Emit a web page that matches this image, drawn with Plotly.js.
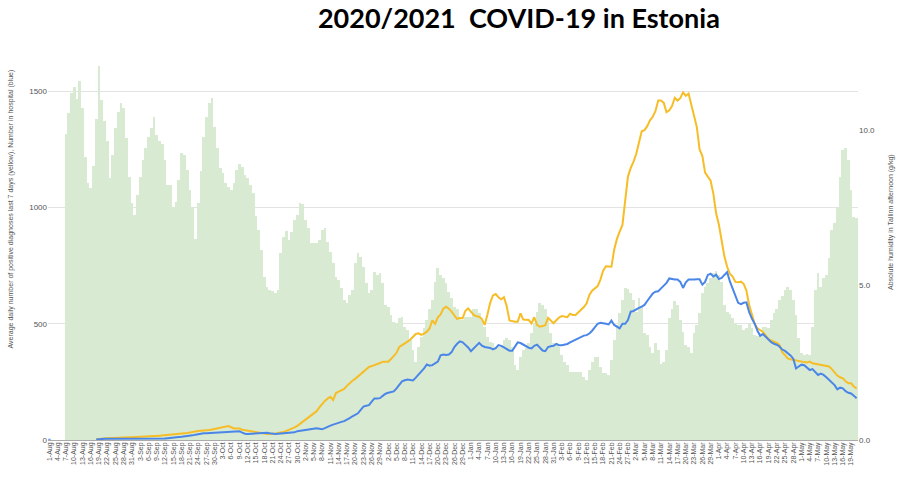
<!DOCTYPE html>
<html>
<head>
<meta charset="utf-8">
<script src="https://cdn.plot.ly/plotly-3.0.1.min.js"></script>
<style>html,body{margin:0;padding:0;background:#fff;}#chart{width:904px;height:482px;}</style>
</head>
<body>
<div id="chart"></div>
<script>
// ---- categories (1 Aug 2020 .. 21 May 2021) ----
const monthNames = ['Aug','Sep','Oct','Nov','Dec','Jan','Feb','Mar','Apr','May'];
const monthDays  = [31,30,31,30,31,31,28,31,30,21];
const categories = [];
monthNames.forEach((m, k) => { for (let d = 1; d <= monthDays[k]; d++) categories.push(d + '-' + m); });
const tickLabels = categories.filter((c, i) => i % 3 === 0);

// ---- absolute humidity in Tallinn afternoon (g/kg), bars, right axis ----
const humidity = [
 null,null,null,null,null,null,9.87,10.54,11.18,11.38,
 10.99,11.59,10.70,9.14,8.28,8.12,8.84,10.34,12.06,10.97,
 10.29,9.63,8.44,9.19,10.05,10.59,10.88,10.70,9.73,8.49,
 7.63,7.26,7.90,8.47,9.03,9.41,9.76,10.05,10.43,9.84,
 9.63,9.55,9.03,8.23,8.23,7.53,7.69,8.39,9.27,9.19,
 8.71,8.06,7.53,6.47,7.63,8.69,9.76,10.43,10.86,11.04,
 10.11,9.41,8.76,8.60,8.28,8.17,8.06,8.28,8.71,8.90,
 8.82,8.55,8.44,8.23,7.96,7.21,6.77,6.13,5.27,4.95,
 4.84,4.81,4.73,4.84,6.02,6.56,6.75,6.45,6.72,7.10,
 7.26,7.63,7.61,7.10,6.83,6.34,6.37,6.34,6.45,6.77,
 6.83,6.40,6.08,5.70,5.27,5.16,4.89,4.52,4.41,4.68,
 4.84,5.70,6.02,5.91,5.59,5.05,4.73,4.84,5.43,5.32,
 5.38,5.05,4.35,4.30,4.03,3.82,3.76,3.92,3.98,3.66,
 3.55,3.23,2.90,2.53,3.01,3.33,3.60,3.87,4.24,4.52,
 5.11,5.54,5.32,5.22,5.05,4.78,4.57,4.30,4.24,3.98,
 3.87,3.98,3.98,3.98,4.24,4.24,4.09,3.87,3.66,3.33,
 3.17,3.12,3.01,3.01,3.06,3.24,3.28,3.24,3.01,2.42,
 2.26,2.69,2.90,2.96,3.12,3.44,3.76,4.14,4.41,4.35,
 4.24,3.92,3.44,3.12,3.12,3.01,2.74,2.53,2.42,2.20,
 2.20,2.20,2.20,2.20,2.04,1.94,2.26,2.53,2.69,2.69,
 2.37,2.15,2.15,2.10,2.58,3.23,3.71,4.09,4.52,4.89,
 4.86,4.73,4.52,4.14,4.57,4.30,3.44,3.39,3.01,2.80,
 3.12,2.90,2.45,2.53,2.90,3.92,4.24,4.49,4.35,3.87,
 3.50,3.06,3.01,2.80,3.44,3.71,4.09,4.73,4.95,5.07,
 5.22,5.38,5.46,5.32,5.11,4.35,4.14,4.06,3.95,3.78,
 3.71,3.71,3.55,3.60,3.74,3.60,3.39,3.35,3.44,3.66,
 3.66,3.60,3.87,4.09,4.24,4.52,4.65,4.84,4.92,4.84,
 4.52,4.03,3.30,2.80,2.74,2.77,2.74,3.66,4.84,5.38,
 4.95,5.22,5.32,5.86,6.77,6.99,7.53,8.49,9.35,9.41,
 9.03,8.06,7.20,7.15
];

// ---- average daily positive diagnoses, last 7 days (yellow) ----
const positives = [
 null,null,null,null,null,null,null,null,null,null,
 null,null,null,null,null,null,null,3,3,5,
 6,7,8,8,9,9,10,10,11,12,
 12,13,14,14,15,15,16,16,17,17,
 18,19,20,21,21,22,24,25,27,28,
 30,32,35,37,39,40,40,41,43,45,
 47,49,51,54,57,60,55,50,50,50,
 44,42,38,36,33,31,29,28,27,26,
 26,26,28,30,31,35,39,43,48,54,
 61,70,79,88,96,106,115,124,140,155,
 168,178,186,172,202,208,213,220,233,245,
 255,263,273,285,296,305,314,318,322,325,
 331,337,337,337,348,360,375,400,407,415,
 423,432,445,456,459,452,458,466,480,515,
 500,528,540,565,573,565,552,538,520,526,
 523,556,566,552,538,532,530,520,495,540,
 590,622,628,614,605,614,575,514,510,509,
 509,545,518,516,516,502,528,495,487,490,
 494,526,512,502,515,527,533,530,528,543,
 538,538,548,558,572,588,624,642,652,662,
 690,728,747,745,745,818,865,896,925,1030,
 1133,1170,1196,1230,1285,1328,1333,1350,1375,1390,
 1415,1460,1460,1450,1410,1418,1436,1472,1460,1470,
 1495,1480,1490,1440,1390,1346,1250,1222,1150,1130,
 1115,1060,975,927,850,790,745,715,703,680,
 679,681,672,643,580,540,500,480,473,465,
 450,434,428,423,418,409,378,365,351,347,
 344,344,340,337,335,333,337,330,328,326,
 324,322,318,316,305,290,277,270,265,253,
 244,244,230,222
];

// ---- number in hospital (blue) ----
const hospital = [
 0,null,null,null,null,null,null,null,null,null,
 null,null,null,null,null,null,null,2,4,4,
 5,5,5,5,6,6,6,6,6,6,
 6,6,6,5,5,5,4,4,4,4,
 5,5,6,8,10,11,12,13,14,15,
 16,18,20,23,26,28,29,29,30,31,
 32,33,33,34,35,36,36,37,37,38,
 32,27,26,27,28,29,30,31,31,31,
 29,27,26,27,28,29,30,31,32,33,
 38,40,41,42,43,45,48,50,48,46,
 51,58,62,66,71,74,78,81,86,94,
 102,108,115,130,144,147,150,165,179,179,
 180,190,199,203,206,209,222,238,252,257,
 260,258,256,268,280,294,308,325,320,322,
 328,337,364,368,366,368,378,400,414,424,
 420,410,398,382,394,405,418,406,400,398,
 396,390,395,408,405,398,390,384,384,400,
 420,417,410,401,397,394,405,410,398,385,
 382,400,403,405,413,408,408,410,413,420,
 426,432,440,445,449,451,458,470,483,500,
 504,503,500,497,514,495,486,480,500,500,
 516,552,555,560,568,574,581,598,617,630,
 638,640,652,664,676,695,692,690,690,680,
 654,678,690,689,690,691,691,668,680,710,
 715,703,711,692,697,710,722,682,649,622,
 590,584,590,592,550,522,500,470,448,456,
 444,430,421,414,410,402,389,383,374,364,
 350,308,316,324,322,313,301,305,292,280,
 286,280,270,260,250,236,218,225,222,210,
 203,200,190,180
];

// isolated points get a visible dot (as in the reference), others none
function dotSizes(arr) {
  return arr.map((v, i) => (v !== null && (i === 0 || arr[i-1] === null) && (i === arr.length-1 || arr[i+1] === null)) ? 4 : 0);
}

const tickColor = '#555';
const baseFont = 'Liberation Sans, Arial, sans-serif';

const traces = [
  {
    type: 'bar', x: categories, y: humidity, yaxis: 'y',
    marker: { color: '#d9ead3', line: { width: 0 } },
    hoverinfo: 'skip'
  },
  {
    type: 'scatter', mode: 'lines+markers', x: categories, y: positives, yaxis: 'y2',
    line: { color: '#f6bd26', width: 2 }, marker: { size: dotSizes(positives), color: '#f6bd26' },
    connectgaps: false, hoverinfo: 'skip'
  },
  {
    type: 'scatter', mode: 'lines+markers', x: categories, y: hospital, yaxis: 'y2',
    line: { color: '#4a86e8', width: 2 }, marker: { size: dotSizes(hospital), color: '#4a86e8' },
    connectgaps: false, hoverinfo: 'skip'
  }
];

const layout = {
  width: 904, height: 482,
  margin: { l: 48, r: 46, t: 60, b: 42, pad: 0 },
  paper_bgcolor: '#fff', plot_bgcolor: '#fff',
  showlegend: false,
  bargap: 0,
  font: { family: baseFont, color: tickColor },
  title: {
    text: '2020/2021\u00a0 COVID-19 in Estonia',
    font: { family: 'Lato, Open Sans, sans-serif', size: 27, color: '#000', weight: 'bold' },
    xref: 'container', yref: 'container', x: 0.574, y: 0.9616, xanchor: 'center', yanchor: 'middle'
  },
  xaxis: {
    type: 'category', range: [-0.5, categories.length - 0.5],
    tickmode: 'array', tickvals: tickLabels, ticktext: tickLabels,
    tickangle: -90, tickfont: { size: 7, color: tickColor, family: baseFont },
    showgrid: false, zeroline: false, showline: false, ticks: ''
  },
  yaxis: {
    side: 'right', range: [0, 380 / 31],
    tickmode: 'array', tickvals: [0, 5, 10], tickformat: '.1f',
    tickfont: { size: 8, color: tickColor, family: baseFont },
    showgrid: false, zeroline: false, showline: false, ticks: ''
  },
  yaxis2: {
    overlaying: 'y', side: 'left', range: [0, 380 / 0.2325],
    tick0: 0, dtick: 500,
    tickfont: { size: 8, color: tickColor, family: baseFont },
    showgrid: true, gridcolor: '#e3e3e3', gridwidth: 1,
    zeroline: true, zerolinecolor: '#aaa', zerolinewidth: 1,
    showline: false, ticks: ''
  },
  annotations: [
    {
      text: 'Average daily number of positive diagnoses last 7 days (yellow), Number in hospital (blue)',
      xref: 'paper', yref: 'paper', x: (10.5 - 48) / 810, y: (440 - 209) / 380,
      xanchor: 'center', yanchor: 'middle', textangle: -90, showarrow: false,
      font: { size: 7, color: tickColor, family: baseFont }
    },
    {
      text: 'Absolute humidity in Tallinn afternoon (g/kg)',
      xref: 'paper', yref: 'paper', x: (891 - 48) / 810, y: (440 - 222) / 380,
      xanchor: 'center', yanchor: 'middle', textangle: -90, showarrow: false,
      font: { size: 7, color: tickColor, family: baseFont }
    }
  ]
};

Plotly.newPlot('chart', traces, layout, { staticPlot: true, displayModeBar: false });
</script>
</body>
</html>
